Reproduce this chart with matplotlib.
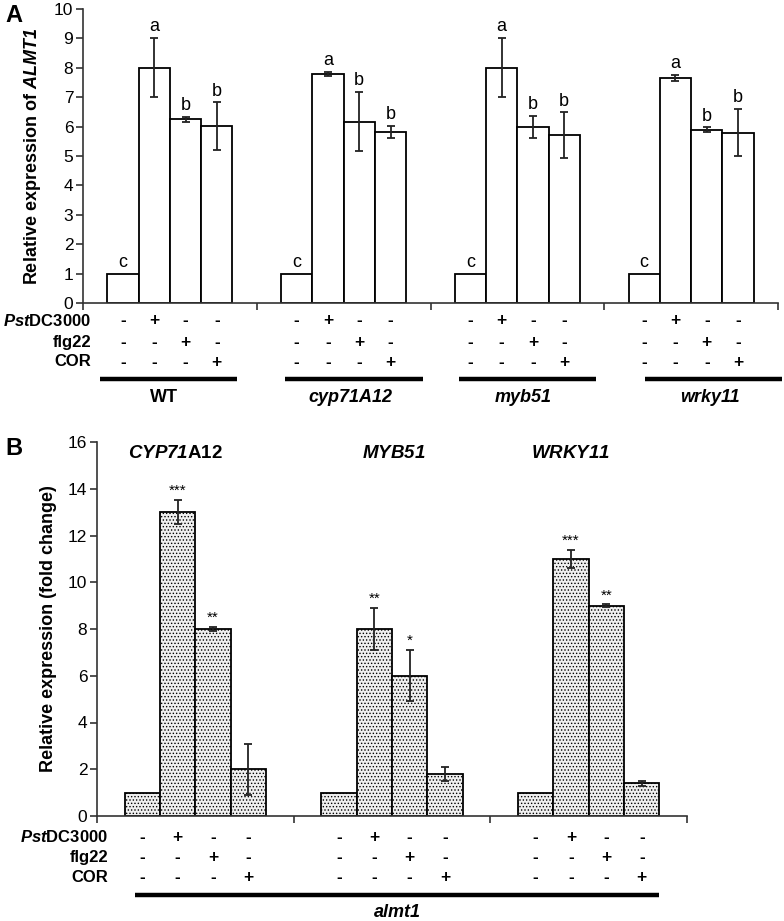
import matplotlib
matplotlib.use("Agg")
import matplotlib.pyplot as plt
import numpy as np
from matplotlib.transforms import blended_transform_factory

plt.rcParams.update({
    "font.family": ["Liberation Sans", "DejaVu Sans"],
    "mathtext.fontset": "custom",
    "mathtext.rm": "Liberation Sans:bold:italic",
    "mathtext.it": "Liberation Sans:bold:italic",
    "mathtext.bf": "Liberation Sans:bold",
    "hatch.color": "#3a3a3a",
    "hatch.linewidth": 0.6,
})

# ---------------- data ----------------
# Panel A: relative expression of ALMT1
genotypes_a = ["WT", "cyp71A12", "myb51", "wrky11"]
genotype_italic = [False, True, True, True]
vals_a = [
    [1.0, 8.0, 6.25, 6.02],
    [1.0, 7.80, 6.17, 5.82],
    [1.0, 8.0, 5.99, 5.71],
    [1.0, 7.66, 5.90, 5.79],
]
err_a = [
    [0.0, 1.0, 0.08, 0.80],
    [0.0, 0.07, 1.00, 0.21],
    [0.0, 1.0, 0.37, 0.77],
    [0.0, 0.10, 0.07, 0.80],
]
letters_a = [
    ["c", "a", "b", "b"],
    ["c", "a", "b", "b"],
    ["c", "a", "b", "b"],
    ["c", "a", "b", "b"],
]

# Panel B: fold change in almt1
genes_b = [r"$\mathit{CYP71}$A12", r"$\mathit{MYB51}$", r"$\mathit{WRKY11}$"]
vals_b = [
    [1.0, 13.0, 8.0, 2.0],
    [1.0, 8.0, 6.0, 1.8],
    [1.0, 11.0, 9.0, 1.4],
]
err_b = [
    [0.0, 0.52, 0.10, 1.10],
    [0.0, 0.90, 1.10, 0.30],
    [0.0, 0.40, 0.05, 0.10],
]
stars_b = [
    ["", "***", "**", ""],
    ["", "**", "*", ""],
    ["", "***", "**", ""],
]

treat_rows = [r"$\mathit{Pst}$DC3000", "flg22", "COR"]
treat_signs = [
    ["-", "+", "-", "-"],
    ["-", "-", "+", "-"],
    ["-", "-", "-", "+"],
]

W, H = 784, 921
fig = plt.figure(figsize=(W / 100, H / 100), dpi=100)


def ax_px(l, t, r, b):
    return fig.add_axes([l / W, 1 - b / H, (r - l) / W, (b - t) / H])


def fy(py):
    return 1 - py / H


def fx(px):
    return px / W


BW = 0.18
offs = (np.arange(4) - 1.5) * BW


def style_axes(ax, ngroups, ymax, ystep):
    ax.set_xlim(0, ngroups)
    ax.set_ylim(0, ymax)
    ax.set_yticks(np.arange(0, ymax + 0.01, ystep))
    ax.set_xticks(np.arange(0, ngroups + 1))
    ax.set_xticklabels([])
    for s in ["top", "right"]:
        ax.spines[s].set_visible(False)
    for s in ["left", "bottom"]:
        ax.spines[s].set_linewidth(1.2)
        ax.spines[s].set_color("#333333")
    ax.tick_params(axis="y", direction="out", length=5, width=1.2, labelsize=12.5, pad=2,
                   colors="#333333", labelcolor="black")
    ax.tick_params(axis="x", direction="out", length=5, width=1.2, colors="#333333")


def treatment_rows(ax, ngroups, ys, xlab):
    tr = blended_transform_factory(ax.transData, fig.transFigure)
    for r, (lab, y) in enumerate(zip(treat_rows, ys)):
        fig.text(fx(xlab), fy(y), lab, ha="right", va="center", fontsize=12, fontweight="bold")
        for g in range(ngroups):
            for i in range(4):
                fig.text(g + 0.5 + offs[i], fy(y), treat_signs[r][i], transform=tr,
                         ha="center", va="center", fontsize=12.5, fontweight="bold")


def draw_bars(ax, vals, errs, ngroups, **kw):
    for g in range(ngroups):
        x = g + 0.5 + offs
        ax.bar(x, vals[g], width=BW, edgecolor="black", linewidth=1.3, zorder=2, **kw)
        e = np.array(errs[g])
        mask = e > 0
        ax.errorbar(x[mask], np.array(vals[g])[mask], yerr=e[mask], fmt="none", ecolor="#222222",
                    elinewidth=1.3, capsize=3, capthick=1.3, zorder=3)


# ---------------- Panel A ----------------
axA = ax_px(83, 9, 778, 303)
style_axes(axA, 4, 10, 1)
draw_bars(axA, vals_a, err_a, 4, color="white")
for g in range(4):
    for i in range(4):
        top = vals_a[g][i] + err_a[g][i]
        axA.text(g + 0.5 + offs[i], top + 0.1, letters_a[g][i], ha="center", va="bottom", fontsize=13)
axA.set_ylabel(r"Relative expression of $\mathit{ALMT1}$", fontsize=13, fontweight="bold", labelpad=8)

treatment_rows(axA, 4, [321, 342, 362], 91)
lines_a = [(100, 237), (285, 423), (459, 596), (645, 782)]
for g, (x0, x1) in enumerate(lines_a):
    fig.add_artist(plt.Line2D([fx(x0), fx(x1)], [fy(379)] * 2, color="black", lw=3.2,
                              solid_capstyle="butt"))
    fig.text(fx((x0 + x1) / 2 - 4), fy(397), genotypes_a[g], ha="center", va="center",
             fontsize=13, fontweight="bold", style="italic" if genotype_italic[g] else "normal")
fig.text(fx(5), fy(16), "A", fontsize=17, fontweight="bold", ha="left", va="center")

# ---------------- Panel B ----------------
axB = ax_px(97, 442, 687, 816)
style_axes(axB, 3, 16, 2)
draw_bars(axB, vals_b, err_b, 3, color="#efefef", hatch=".....")
gene_x = [0.40, 1.51, 2.41]
for g in range(3):
    for i in range(4):
        if stars_b[g][i]:
            top = vals_b[g][i] + err_b[g][i]
            axB.text(g + 0.5 + offs[i], top + 0.08, stars_b[g][i], ha="center", va="bottom", fontsize=11)
    axB.text(gene_x[g], 15.5, genes_b[g], ha="center", va="center", fontsize=13.5, fontweight="bold")
axB.set_ylabel("Relative expression (fold change)", fontsize=13, fontweight="bold", labelpad=8)

treatment_rows(axB, 3, [837, 857, 877], 108)
fig.add_artist(plt.Line2D([fx(135), fx(659)], [fy(895)] * 2, color="black", lw=3.2,
                          solid_capstyle="butt"))
fig.text(fx(397), fy(912), "almt1", ha="center", va="center",
         fontsize=13, fontweight="bold", style="italic")
fig.text(fx(5), fy(448), "B", fontsize=17, fontweight="bold", ha="left", va="center")

fig.savefig("out.png", dpi=100)
